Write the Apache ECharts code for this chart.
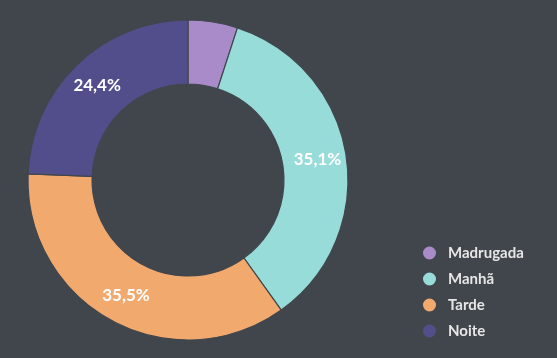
<!DOCTYPE html>
<html><head><meta charset="utf-8">
<script src="https://cdn.jsdelivr.net/npm/echarts@6/dist/echarts.min.js"></script>
<style>html,body{margin:0;padding:0;background:#41464d;}#c{width:557px;height:358px;}</style>
</head><body><div id="c"></div>
<script>
const categories = ['Madrugada', 'Manhã', 'Tarde', 'Noite'];
const values = [5.0, 35.1, 35.5, 24.4];
const colors = ['#a98bc9', '#97dcd9', '#f2a96e', '#524e8c'];
const showLabel = [false, true, true, true];

const chart = echarts.init(document.getElementById('c'));
chart.setOption({
  backgroundColor: '#41464d',
  animation: false,
  legend: {
    orient: 'vertical',
    left: 416,
    top: 239,
    icon: 'circle',
    itemWidth: 15,
    itemHeight: 15,
    itemGap: 8,
    textStyle: { color: '#e6e6e6', fontFamily: 'Lato', fontWeight: 'bold', fontSize: 15, lineHeight: 18, padding: [0, 0, 0, 6] },
    data: categories
  },
  series: [{
    type: 'pie',
    center: [188, 180],
    radius: [96, 160],
    startAngle: 90,
    clockwise: true,
    itemStyle: { borderColor: '#41464d', borderWidth: 1.2 },
    label: {
      position: 'inside',
      color: '#ffffff',
      fontFamily: 'Lato',
      fontWeight: 'bold',
      fontSize: 17,
      formatter: p => p.value.toFixed(1).replace('.', ',') + '%'
    },
    labelLine: { show: false },
    data: categories.map((c, i) => ({
      name: c, value: values[i],
      itemStyle: { color: colors[i] },
      label: { show: showLabel[i] }
    }))
  }]
});
</script></body></html>
